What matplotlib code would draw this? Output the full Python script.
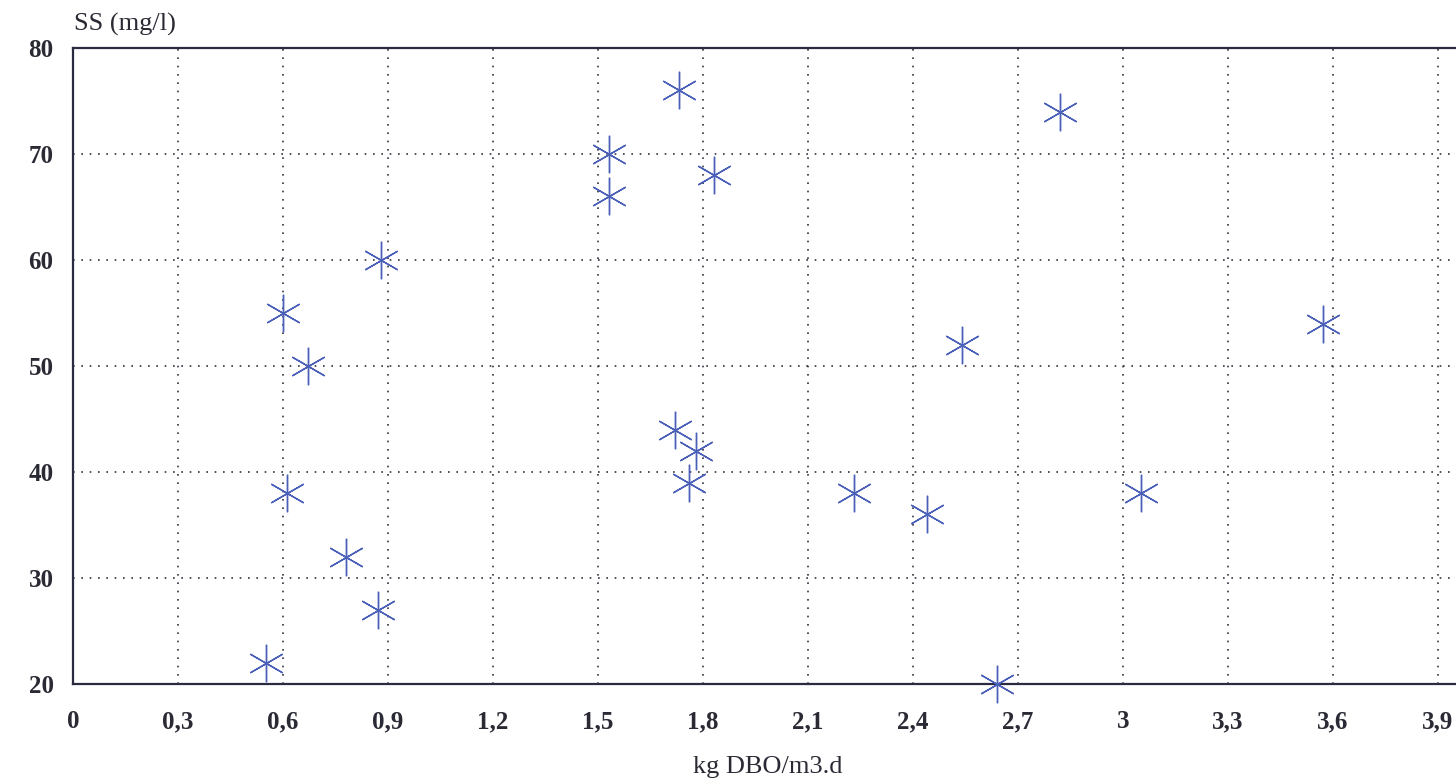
import matplotlib
matplotlib.use("Agg")
import matplotlib.pyplot as plt

load = [0.55, 0.60, 0.61, 0.67, 0.78, 0.87, 0.88, 1.53, 1.53, 1.73, 1.72, 1.78, 1.76,
        1.83, 2.23, 2.44, 2.54, 2.64, 2.82, 3.05, 3.57]
ss = [22, 55, 38, 50, 32, 27, 60, 70, 66, 76, 44, 42, 39,
      68, 38, 36, 52, 20, 74, 38, 54]
xticks = [0, 0.3, 0.6, 0.9, 1.2, 1.5, 1.8, 2.1, 2.4, 2.7, 3.0, 3.3, 3.6, 3.9]
xticklabels = ["0", "0,3", "0,6", "0,9", "1,2", "1,5", "1,8", "2,1", "2,4", "2,7", "3", "3,3", "3,6", "3,9"]
yticks = [20, 30, 40, 50, 60, 70, 80]

plt.rcParams['font.family'] = ['Liberation Serif', 'DejaVu Serif']

W, H = 1456, 784
fig = plt.figure(figsize=(W / 100, H / 100), dpi=100)
left, right, top, bottom = 73, 1456, 48, 684
ax = fig.add_axes([left / W, 1 - bottom / H, (right - left) / W, (bottom - top) / H])

ax.plot(load, ss, linestyle='none', marker=(6, 2, 0), markersize=27,
        markeredgewidth=1.0, color='#4a5fb8', clip_on=False, zorder=5)

ax.set_xlim(0, (right - left) / 350.0)
ax.set_ylim(20, 80)
ax.set_xticks(xticks)
ax.set_xticklabels(xticklabels)
ax.set_yticks(yticks)
ax.tick_params(length=0, labelsize=18, colors='#2a2a35')
ax.tick_params(axis='x', pad=19)
ax.tick_params(axis='y', pad=14)
for lab in ax.get_xticklabels() + ax.get_yticklabels():
    lab.set_fontweight('bold')

ax.grid(True, linestyle=(0, (1, 4)), color='#333340', linewidth=1.2)
ax.set_axisbelow(True)
for s in ['top', 'bottom', 'left']:
    ax.spines[s].set_linewidth(1.6)
    ax.spines[s].set_color('#2a2a40')
ax.spines['right'].set_visible(False)

fig.text(74 / W, 1 - 24 / H, "SS (mg/l)", fontsize=19, color='#2a2a35',
         ha='left', va='center')
fig.text(768 / W, 1 - 767 / H, "kg DBO/m3.d", fontsize=19, color='#2a2a35',
         ha='center', va='center')

fig.savefig("out.png", dpi=100)
